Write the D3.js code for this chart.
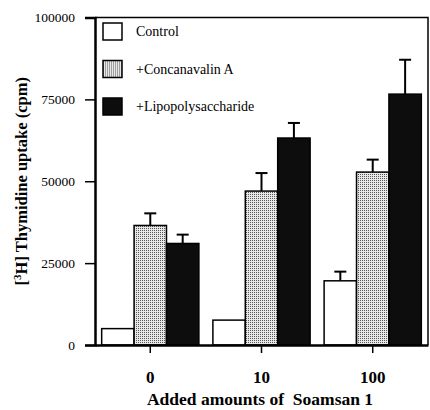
<!DOCTYPE html>
<html>
<head>
<meta charset="utf-8">
<script src="https://cdn.jsdelivr.net/npm/d3@7"></script>
<style>
  body { margin: 0; background: #fff; }
  svg { display: block; }
  text { font-family: "Liberation Serif", "Times New Roman", serif; fill: #000; }
</style>
</head>
<body>
<script>
// data
var doses = ["0", "10", "100"];
var treatments = ["Control", "+Concanavalin A", "+Lipopolysaccharide"];
var controlVals = [5000, 7600, 19600];
var controlErr = [0, 0, 2800];
var conaVals = [36500, 47000, 52800];
var conaErr = [3700, 5500, 3800];
var lpsVals = [31000, 63200, 76600];
var lpsErr = [2700, 4600, 10500];
var yTicks = [0, 25000, 50000, 75000, 100000];

(function(){

var width = 430, height = 410;
var plotLeft = 95, plotRight = 428, plotTop = 17.5, plotBottom = 345;
var serif = "'Liberation Serif', 'DejaVu Serif', serif";

var series = [
  {name: treatments[0], vals: controlVals, err: controlErr, fill: "#fff"},
  {name: treatments[1], vals: conaVals, err: conaErr, fill: "url(#dots)"},
  {name: treatments[2], vals: lpsVals, err: lpsErr, fill: "#0d0d0d"}
];

var svg = d3.select("body").append("svg")
    .attr("width", width)
    .attr("height", height);

// stipple pattern for the ConA bars
var pat = svg.append("defs").append("pattern")
    .attr("id", "dots")
    .attr("width", 2)
    .attr("height", 2)
    .attr("patternUnits", "userSpaceOnUse");
pat.append("rect").attr("width", 2).attr("height", 2).attr("fill", "#e8e8e8");
pat.append("rect").attr("width", 1).attr("height", 1).attr("fill", "#555");

var x0 = d3.scaleBand()
    .domain(doses)
    .range([plotLeft, plotRight])
    .paddingInner(0.126)
    .paddingOuter(0.06);

var x1 = d3.scaleBand()
    .domain(treatments)
    .range([0, x0.bandwidth()]);

var y = d3.scaleLinear()
    .domain([0, 100000])
    .range([plotBottom, plotTop]);

// frame top + right
svg.append("path")
    .attr("d", "M" + plotLeft + "," + plotTop + "H" + plotRight + "V" + plotBottom)
    .attr("fill", "none")
    .attr("stroke", "#000")
    .attr("stroke-width", 1.5);

// bars
series.forEach(function(s){
    svg.selectAll(null)
        .data(doses)
        .enter()
        .append("rect")
        .attr("x", function(d){ return x0(d) + x1(s.name); })
        .attr("y", function(d, i){ return y(s.vals[i]); })
        .attr("width", x1.bandwidth())
        .attr("height", function(d, i){ return plotBottom - y(s.vals[i]); })
        .attr("fill", s.fill)
        .attr("stroke", "#000")
        .attr("stroke-width", 1.5);

    // error bars, upward only
    svg.selectAll(null)
        .data(doses.filter(function(d, i){ return s.err[i] > 0; }))
        .enter()
        .append("g")
        .attr("stroke", "#000")
        .attr("stroke-width", 2)
        .each(function(d){
            var i = doses.indexOf(d);
            var cx = x0(d) + x1(s.name) + x1.bandwidth() / 2;
            var g = d3.select(this);
            g.append("line")
                .attr("x1", cx).attr("x2", cx)
                .attr("y1", y(s.vals[i])).attr("y2", y(s.vals[i] + s.err[i]));
            g.append("line")
                .attr("x1", cx - 6).attr("x2", cx + 6)
                .attr("y1", y(s.vals[i] + s.err[i])).attr("y2", y(s.vals[i] + s.err[i]));
        });
});

// y axis
var yAxis = svg.append("g")
    .attr("transform", "translate(" + plotLeft + ",0)")
    .call(d3.axisLeft(y).tickValues(yTicks).tickSize(10).tickPadding(10).tickFormat(d3.format("d")));
yAxis.attr("font-family", serif);
yAxis.select(".domain").attr("stroke-width", 2.5);
yAxis.selectAll(".tick line").attr("stroke-width", 1.5);
yAxis.selectAll("text").attr("font-size", 13.5);

// x axis
var xAxis = svg.append("g")
    .attr("transform", "translate(0," + plotBottom + ")")
    .call(d3.axisBottom(x0).tickSize(8).tickPadding(18).tickSizeOuter(0));
xAxis.attr("font-family", serif);
xAxis.select(".domain").attr("stroke-width", 2.5);
xAxis.selectAll(".tick line").attr("stroke-width", 1.5);
xAxis.selectAll("text")
    .attr("font-size", 17)
    .attr("font-weight", "bold");

// legend
var legend = svg.selectAll(".legend")
    .data(series)
    .enter()
    .append("g")
    .attr("class", "legend")
    .attr("transform", function(d, i){ return "translate(103," + (23 + i * 37.5) + ")"; });
legend.append("rect")
    .attr("width", 19)
    .attr("height", 17)
    .attr("fill", function(d){ return d.fill; })
    .attr("stroke", "#000")
    .attr("stroke-width", 1.5);
legend.append("text")
    .attr("x", 33)
    .attr("y", 13)
    .attr("font-family", serif)
    .attr("font-size", 14)
    .text(function(d){ return d.name; });

// axis titles
var yt = svg.append("text")
    .attr("transform", "translate(27," + (plotTop + plotBottom) / 2 + ") rotate(-90)")
    .attr("text-anchor", "middle")
    .attr("font-family", serif)
    .attr("font-size", 16.5)
    .attr("font-weight", "bold");
yt.append("tspan").text("[");
yt.append("tspan").attr("baseline-shift", "super").attr("font-size", 11).text("3");
yt.append("tspan").text("H] Thymidine uptake (cpm)");

svg.append("text")
    .attr("x", 260)
    .attr("y", 405)
    .attr("text-anchor", "middle")
    .attr("font-family", serif)
    .attr("font-size", 17.5)
    .attr("font-weight", "bold")
    .attr("xml:space", "preserve")
    .text("Added amounts of  Soamsan 1");

})();
</script>
</body>
</html>
